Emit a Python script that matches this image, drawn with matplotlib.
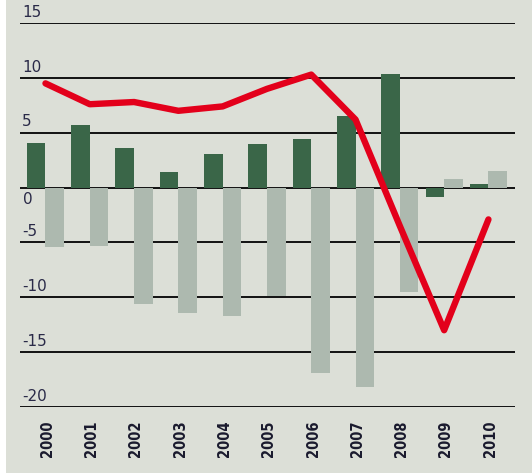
import numpy as np
import matplotlib
matplotlib.use("Agg")
import matplotlib.pyplot as plt
from matplotlib.patches import Rectangle

years = ['2000', '2001', '2002', '2003', '2004', '2005',
         '2006', '2007', '2008', '2009', '2010']
dark_vals = [4.1, 5.7, 3.6, 1.4, 3.1, 4.0, 4.4, 6.5, 10.4, -0.9, 0.3]
grey_vals = [-5.4, -5.3, -10.6, -11.4, -11.7, -9.9, -16.9, -18.2, -9.5, 0.8, 1.5]
red_line = [9.5, 7.6, 7.8, 7.0, 7.4, 9.0, 10.3, 6.2, -3.5, -13.0, -2.9]
y_ticks = [15, 10, 5, 0, -5, -10, -15, -20]

bg = '#dcdfd7'
dark_green = '#3a6648'
light_grey = '#adb9af'
red = '#e3001b'
text_col = '#2a2a48'

fig = plt.figure(figsize=(5.32, 4.73), dpi=100)
fig.patch.set_facecolor(bg)
# thin white strip at the left edge
fig.patches.append(Rectangle((0, 0), 6 / 532, 1, transform=fig.transFigure,
                             facecolor='white', edgecolor='none'))
ax = fig.add_axes([0.0376, 0.1395, 0.9305, 0.8118])
ax.set_facecolor(bg)

x = np.arange(len(years))
w = 0.42

for t in y_ticks:
    ax.axhline(t, color='#111111', lw=1.4, zorder=1)

ax.bar(x - w / 2, dark_vals, width=w, color=dark_green, zorder=2)
ax.bar(x + w / 2, grey_vals, width=w, color=light_grey, zorder=2)
ax.plot(x, red_line, color=red, lw=4.6, solid_capstyle='round',
        solid_joinstyle='round', zorder=3)

ax.set_xlim(-0.575, 10.6)
ax.set_ylim(-20, 15)
ax.axis('off')

# y labels sit just above their gridline (0 sits below)
for t in y_ticks:
    lab = str(t)
    if t == 0:
        ax.text(-0.5, t - 0.4, lab, ha='left', va='top', fontsize=11,
                color=text_col, clip_on=False)
    else:
        ax.text(-0.53, t + 0.3, lab, ha='left', va='bottom', fontsize=11,
                color=text_col, clip_on=False)

for xi, yr in zip(x, years):
    ax.text(xi + 0.04, -21.2, yr, rotation=90, ha='center', va='top',
            fontsize=10.5, color='#1a1a2e', fontweight='semibold',
            fontstretch='condensed', clip_on=False)

fig.savefig('out.png', dpi=100, facecolor=bg)
